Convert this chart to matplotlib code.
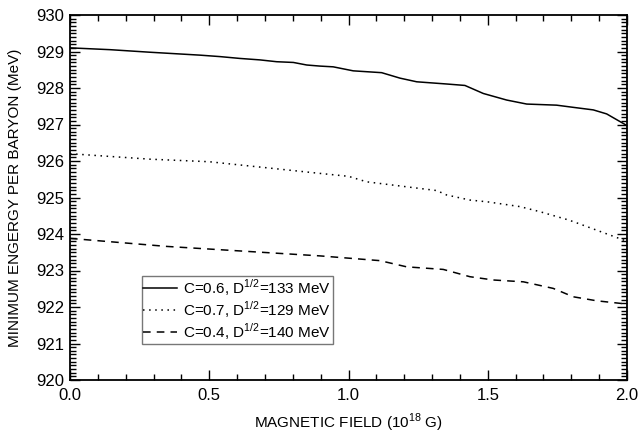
import numpy as np
import matplotlib
matplotlib.use("Agg")
import matplotlib.pyplot as plt
from matplotlib.ticker import MultipleLocator, FormatStrFormatter

plt.rcParams['font.family'] = ['Liberation Sans', 'DejaVu Sans']
plt.rcParams['mathtext.fontset'] = 'custom'
plt.rcParams['mathtext.rm'] = 'Liberation Sans'

# curves
b_solid = [0.0, 0.144, 0.287, 0.467, 0.539, 0.610, 0.682, 0.742, 0.802, 0.850, 0.898,
           0.945, 1.017, 1.119, 1.185, 1.245, 1.352, 1.418, 1.484, 1.568, 1.640,
           1.747, 1.807, 1.879, 1.927, 2.0]
e_solid = [929.10, 929.05, 928.98, 928.90, 928.86, 928.81, 928.77, 928.72, 928.70, 928.63, 928.60,
           928.58, 928.47, 928.42, 928.27, 928.17, 928.11, 928.07, 927.85, 927.67, 927.56,
           927.53, 927.47, 927.40, 927.29, 926.97]

b_dot = [0.0, 0.287, 0.5, 0.898, 1.0, 1.065, 1.317, 1.352, 1.436, 1.5, 1.616, 1.688, 1.783, 1.807, 2.0]
e_dot = [926.20, 926.05, 925.98, 925.66, 925.58, 925.43, 925.19, 925.07, 924.93, 924.88, 924.75,
         924.61, 924.40, 924.34, 923.80]

b_dash = [0.0, 0.347, 0.898, 1.113, 1.209, 1.340, 1.436, 1.520, 1.628, 1.735, 1.807, 1.891, 2.0]
e_dash = [923.88, 923.66, 923.40, 923.27, 923.10, 923.03, 922.83, 922.74, 922.69, 922.51,
          922.28, 922.17, 922.08]

labels = [r"C=0.6, D$^{1/2}$=133 MeV",
          r"C=0.7, D$^{1/2}$=129 MeV",
          r"C=0.4, D$^{1/2}$=140 MeV"]

fig = plt.figure(figsize=(6.39, 4.33), dpi=100)
ax = fig.add_axes([70 / 639, 53 / 433, 557 / 639, 365 / 433])

ax.plot(b_solid, e_solid, color='black', lw=1.1, ls='-', label=labels[0])
ax.plot(b_dot, e_dot, color='black', lw=1.1, ls=(0, (1, 3)), label=labels[1])
ax.plot(b_dash, e_dash, color='black', lw=1.1, ls=(0, (5, 4)), label=labels[2])

ax.set_xlim(0, 2.0)
ax.set_ylim(920, 930)
ax.xaxis.set_major_locator(MultipleLocator(0.5))
ax.xaxis.set_minor_locator(MultipleLocator(0.1))
ax.yaxis.set_major_locator(MultipleLocator(1))
ax.yaxis.set_minor_locator(MultipleLocator(0.1))
ax.xaxis.set_major_formatter(FormatStrFormatter('%.1f'))
ax.tick_params(which='both', direction='in', top=True, right=True, labelsize=12, width=1.0)
ax.tick_params(which='major', length=7)
ax.tick_params(which='minor', length=4)
ax.tick_params(axis='x', which='major', pad=6)
ax.tick_params(axis='y', which='major', pad=4)
for s in ax.spines.values():
    s.set_linewidth(1.3)

ax.set_xlabel(r"MAGNETIC FIELD (10$^{18}$ G)", fontsize=11, labelpad=6)
ax.set_ylabel("MINIMUM ENGERGY PER BARYON (MeV)", fontsize=11, labelpad=10)

leg = ax.legend(loc='lower left', bbox_to_anchor=(0.129, 0.10), fontsize=11,
                frameon=True, fancybox=False, borderaxespad=0, handlelength=2.2,
                handletextpad=0.4, borderpad=0.1, labelspacing=0.1)
leg.get_frame().set_edgecolor('#555555')
leg.get_frame().set_linewidth(1.0)

fig.savefig("out.png", dpi=100)
